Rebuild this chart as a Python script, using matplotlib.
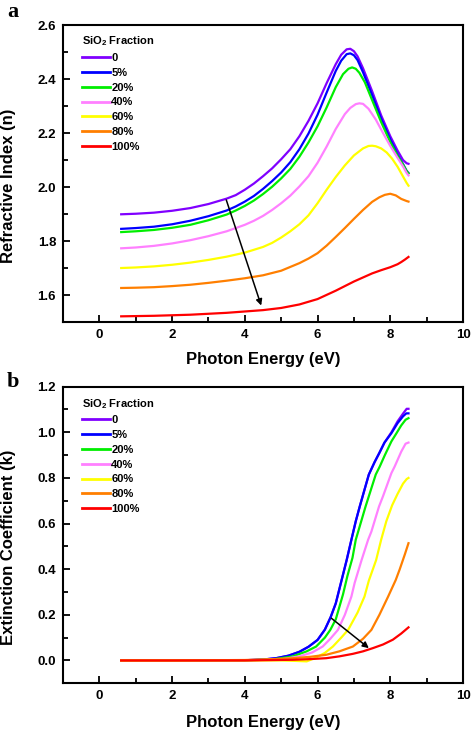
import matplotlib
matplotlib.use("Agg")
import matplotlib.pyplot as plt
from matplotlib.ticker import MultipleLocator, FormatStrFormatter

plt.rcParams['font.family'] = ['Liberation Sans', 'DejaVu Sans']
plt.rcParams['font.weight'] = 'bold'
plt.rcParams['mathtext.fontset'] = 'custom'
plt.rcParams['mathtext.rm'] = 'Liberation Sans:bold'
plt.rcParams['mathtext.bf'] = 'Liberation Sans:bold'
plt.rcParams['mathtext.default'] = 'rm'

labels = ["0", "5%", "20%", "40%", "60%", "80%", "100%"]
colors = ["#8000FF", "#0000FF", "#00EE00", "#FF80FF", "#FFFF00", "#FF7F00", "#FF0000"]

# Refractive index n(E)
n_x = [
    [0.6, 1.0, 1.5, 2.0, 2.5, 3.0, 3.5, 3.75, 4.0, 4.25, 4.5, 4.75, 5.0, 5.25, 5.5, 5.75, 6.0, 6.25, 6.5, 6.65, 6.8, 6.9, 7.0, 7.1, 7.25, 7.5, 7.75, 8.0, 8.2, 8.35, 8.45, 8.5],
    [0.6, 1.0, 1.5, 2.0, 2.5, 3.0, 3.5, 3.75, 4.0, 4.25, 4.5, 4.75, 5.0, 5.25, 5.5, 5.75, 6.0, 6.25, 6.5, 6.65, 6.8, 6.9, 7.0, 7.1, 7.25, 7.5, 7.75, 8.0, 8.2, 8.35, 8.45, 8.5],
    [0.6, 1.0, 1.5, 2.0, 2.5, 3.0, 3.5, 3.75, 4.0, 4.25, 4.5, 4.75, 5.0, 5.25, 5.5, 5.75, 6.0, 6.25, 6.5, 6.7, 6.85, 6.95, 7.05, 7.15, 7.3, 7.5, 7.75, 8.0, 8.2, 8.35, 8.45, 8.5],
    [0.6, 1.0, 1.5, 2.0, 2.5, 3.0, 3.5, 3.75, 4.0, 4.25, 4.5, 4.75, 5.0, 5.25, 5.5, 5.75, 6.0, 6.25, 6.5, 6.75, 6.9, 7.05, 7.15, 7.25, 7.4, 7.6, 7.8, 8.0, 8.2, 8.35, 8.45, 8.5],
    [0.6, 1.0, 1.5, 2.0, 2.5, 3.0, 3.5, 4.0, 4.5, 4.75, 5.0, 5.25, 5.5, 5.75, 6.0, 6.25, 6.5, 6.75, 7.0, 7.25, 7.4, 7.5, 7.6, 7.75, 7.9, 8.05, 8.2, 8.35, 8.45, 8.5],
    [0.6, 1.0, 1.5, 2.0, 2.5, 3.0, 3.5, 4.0, 4.5, 5.0, 5.5, 5.75, 6.0, 6.25, 6.5, 6.75, 7.0, 7.25, 7.5, 7.7, 7.85, 8.0, 8.15, 8.3, 8.45, 8.5],
    [0.6, 1.5, 2.5, 3.5, 4.0, 4.5, 5.0, 5.5, 6.0, 6.5, 7.0, 7.5, 7.75, 8.0, 8.2, 8.3, 8.4, 8.5],
]
n_y = [
    [1.899, 1.901, 1.905, 1.912, 1.922, 1.937, 1.957, 1.970, 1.990, 2.013, 2.040, 2.069, 2.103, 2.140, 2.188, 2.245, 2.310, 2.385, 2.455, 2.490, 2.510, 2.512, 2.503, 2.484, 2.440, 2.355, 2.265, 2.188, 2.135, 2.100, 2.088, 2.086],
    [1.845, 1.848, 1.853, 1.862, 1.875, 1.892, 1.913, 1.928, 1.946, 1.967, 1.993, 2.022, 2.054, 2.092, 2.140, 2.198, 2.268, 2.350, 2.430, 2.468, 2.492, 2.495, 2.488, 2.470, 2.425, 2.340, 2.252, 2.176, 2.120, 2.085, 2.060, 2.052],
    [1.833, 1.836, 1.841, 1.849, 1.860, 1.877, 1.898, 1.913, 1.930, 1.950, 1.974, 2.001, 2.032, 2.067, 2.112, 2.165, 2.225, 2.295, 2.370, 2.418, 2.438, 2.443, 2.438, 2.423, 2.388, 2.322, 2.240, 2.166, 2.115, 2.083, 2.058, 2.050],
    [1.773, 1.776, 1.782, 1.791, 1.803, 1.818, 1.836, 1.848, 1.860, 1.875, 1.893, 1.915, 1.940, 1.968, 2.002, 2.040, 2.090, 2.150, 2.215, 2.270, 2.293, 2.307, 2.310, 2.308, 2.290, 2.250, 2.200, 2.152, 2.108, 2.076, 2.052, 2.043],
    [1.700, 1.702, 1.706, 1.712, 1.720, 1.730, 1.742, 1.757, 1.778, 1.793, 1.813, 1.836, 1.862, 1.895, 1.940, 1.990, 2.037, 2.080, 2.117, 2.143, 2.152, 2.153, 2.151, 2.143, 2.128, 2.105, 2.075, 2.039, 2.015, 2.005],
    [1.626, 1.627, 1.629, 1.633, 1.638, 1.645, 1.653, 1.662, 1.673, 1.690, 1.718, 1.735, 1.755, 1.783, 1.815, 1.848, 1.882, 1.915, 1.945, 1.962, 1.971, 1.975, 1.969, 1.956, 1.948, 1.946],
    [1.521, 1.523, 1.527, 1.534, 1.539, 1.544, 1.552, 1.565, 1.585, 1.616, 1.650, 1.680, 1.692, 1.703, 1.714, 1.722, 1.731, 1.741],
]

# Extinction coefficient k(E)
k_x = [
    [0.6, 2, 4, 4.5, 4.86, 5.2, 5.5, 5.75, 6.0, 6.2, 6.36, 6.5, 6.65, 6.8, 6.93, 7.05, 7.16, 7.29, 7.41, 7.57, 7.7, 7.84, 8.03, 8.2, 8.35, 8.45, 8.5],
    [0.6, 2, 4, 4.5, 4.86, 5.2, 5.5, 5.75, 6.0, 6.2, 6.36, 6.5, 6.65, 6.8, 6.93, 7.05, 7.16, 7.29, 7.41, 7.57, 7.7, 7.84, 8.03, 8.2, 8.35, 8.44, 8.5],
    [0.6, 2, 4, 4.8, 5.32, 5.7, 5.96, 6.2, 6.35, 6.5, 6.7, 6.82, 6.96, 7.05, 7.2, 7.32, 7.45, 7.6, 7.71, 7.85, 8.03, 8.17, 8.3, 8.42, 8.5],
    [0.6, 2, 4, 5.0, 5.5, 5.85, 6.14, 6.35, 6.56, 6.75, 6.93, 7.02, 7.21, 7.39, 7.48, 7.69, 7.8, 8.03, 8.12, 8.3, 8.42, 8.5],
    [0.6, 2, 4, 5.0, 5.4, 5.7, 5.95, 6.2, 6.42, 6.65, 6.84, 7.1, 7.29, 7.41, 7.61, 7.75, 7.89, 8.05, 8.2, 8.35, 8.45, 8.5],
    [0.6, 2, 4, 4.8, 5.32, 5.8, 6.24, 6.6, 6.97, 7.25, 7.48, 7.7, 7.94, 8.15, 8.26, 8.4, 8.5],
    [0.6, 2, 4, 5.32, 5.8, 6.24, 6.6, 6.97, 7.25, 7.52, 7.8, 8.07, 8.3, 8.5],
]
k_y = [
    [0, 0, 0.001, 0.004, 0.010, 0.021, 0.038, 0.060, 0.090, 0.135, 0.190, 0.250, 0.345, 0.440, 0.529, 0.610, 0.675, 0.748, 0.815, 0.870, 0.910, 0.955, 1.000, 1.048, 1.082, 1.103, 1.103],
    [0, 0, 0.001, 0.004, 0.010, 0.021, 0.038, 0.060, 0.090, 0.135, 0.190, 0.250, 0.345, 0.440, 0.529, 0.610, 0.675, 0.748, 0.815, 0.870, 0.910, 0.955, 0.996, 1.040, 1.070, 1.083, 1.083],
    [0, 0, 0, 0.005, 0.018, 0.040, 0.061, 0.100, 0.134, 0.180, 0.290, 0.370, 0.450, 0.529, 0.610, 0.675, 0.740, 0.815, 0.850, 0.900, 0.960, 0.996, 1.030, 1.055, 1.062],
    [0, 0, 0, 0.005, 0.018, 0.035, 0.061, 0.095, 0.134, 0.200, 0.280, 0.340, 0.440, 0.529, 0.565, 0.675, 0.720, 0.821, 0.850, 0.915, 0.950, 0.955],
    [0, 0, 0, 0, -0.002, -0.004, 0.012, 0.033, 0.061, 0.100, 0.134, 0.210, 0.280, 0.350, 0.440, 0.530, 0.610, 0.680, 0.730, 0.775, 0.795, 0.800],
    [0, 0, 0.002, 0.006, 0.010, 0.016, 0.025, 0.040, 0.061, 0.095, 0.134, 0.200, 0.280, 0.353, 0.400, 0.465, 0.514],
    [0, 0, 0, 0.003, 0.006, 0.010, 0.018, 0.029, 0.040, 0.054, 0.070, 0.091, 0.118, 0.145],
]

arrow_n = ((3.49, 1.952), (4.45, 1.561))
arrow_k = ((6.38, 0.185), (7.41, 0.054))

fig = plt.figure(figsize=(4.72, 7.34), dpi=100)
ax1 = fig.add_axes([0.1335, 0.5613, 0.8475, 0.4046])
ax2 = fig.add_axes([0.1335, 0.0691, 0.8475, 0.4041])


def style(ax, ylim, ymaj, ymin, ylabel):
    ax.set_xlim(-1, 10)
    ax.set_ylim(*ylim)
    ax.xaxis.set_major_locator(MultipleLocator(2))
    ax.xaxis.set_minor_locator(MultipleLocator(1))
    ax.yaxis.set_major_locator(MultipleLocator(ymaj))
    ax.yaxis.set_minor_locator(MultipleLocator(ymin))
    ax.yaxis.set_major_formatter(FormatStrFormatter('%.1f'))
    ax.tick_params(which='both', direction='in', top=False, right=False,
                   width=1.3, labelsize=9.5, pad=5)
    ax.tick_params(which='major', length=5)
    ax.tick_params(which='minor', length=3.5)
    for lab in ax.get_xticklabels() + ax.get_yticklabels():
        lab.set_fontweight('bold')
    for s in ax.spines.values():
        s.set_linewidth(1.5)
    ax.set_xlabel('Photon Energy (eV)', fontsize=12, fontweight='bold')
    ax.set_ylabel(ylabel, fontsize=12, fontweight='bold')
    ax.yaxis.set_label_coords(-0.118, 0.46)


for xs, ys, c, l in zip(n_x, n_y, colors, labels):
    ax1.plot(xs, ys, color=c, lw=1.6, label=l)
for xs, ys, c, l in zip(k_x, k_y, colors, labels):
    ax2.plot(xs, ys, color=c, lw=1.6, label=l)

style(ax1, (1.5, 2.6), 0.2, 0.1, 'Refractive Index (n)')
style(ax2, (-0.1, 1.2), 0.2, 0.1, 'Extinction Coefficient (k)')
ax1.xaxis.set_label_coords(0.5, -0.1)
ax2.xaxis.set_label_coords(0.5, -0.106)

for ax, arr in ((ax1, arrow_n), (ax2, arrow_k)):
    ax.annotate('', xy=arr[1], xytext=arr[0],
                arrowprops=dict(arrowstyle='-|>', color='black', lw=1.1,
                                mutation_scale=9, shrinkA=0, shrinkB=0))

for ax, ytop in ((ax1, 0.968), (ax2, 0.966)):
    leg = ax.legend(loc='upper left', bbox_to_anchor=(0.047, ytop), frameon=False,
                    title='SiO$_2$ Fraction', alignment='left',
                    prop={'size': 8, 'weight': 'bold'}, title_fontproperties={'size': 8, 'weight': 'bold'},
                    handlelength=2.5, handletextpad=0.15, labelspacing=0.43,
                    borderpad=0, borderaxespad=0)
    for h in leg.get_lines():
        h.set_linewidth(2)

fig.text(7 / 472, 1 - 2 / 734, 'a', family='Liberation Serif', fontweight='bold',
         fontsize=16, va='top', ha='left')
fig.text(7 / 472, 1 - 372 / 734, 'b', family='Liberation Serif', fontweight='bold',
         fontsize=16, va='top', ha='left')

fig.savefig('out.png', dpi=100)
